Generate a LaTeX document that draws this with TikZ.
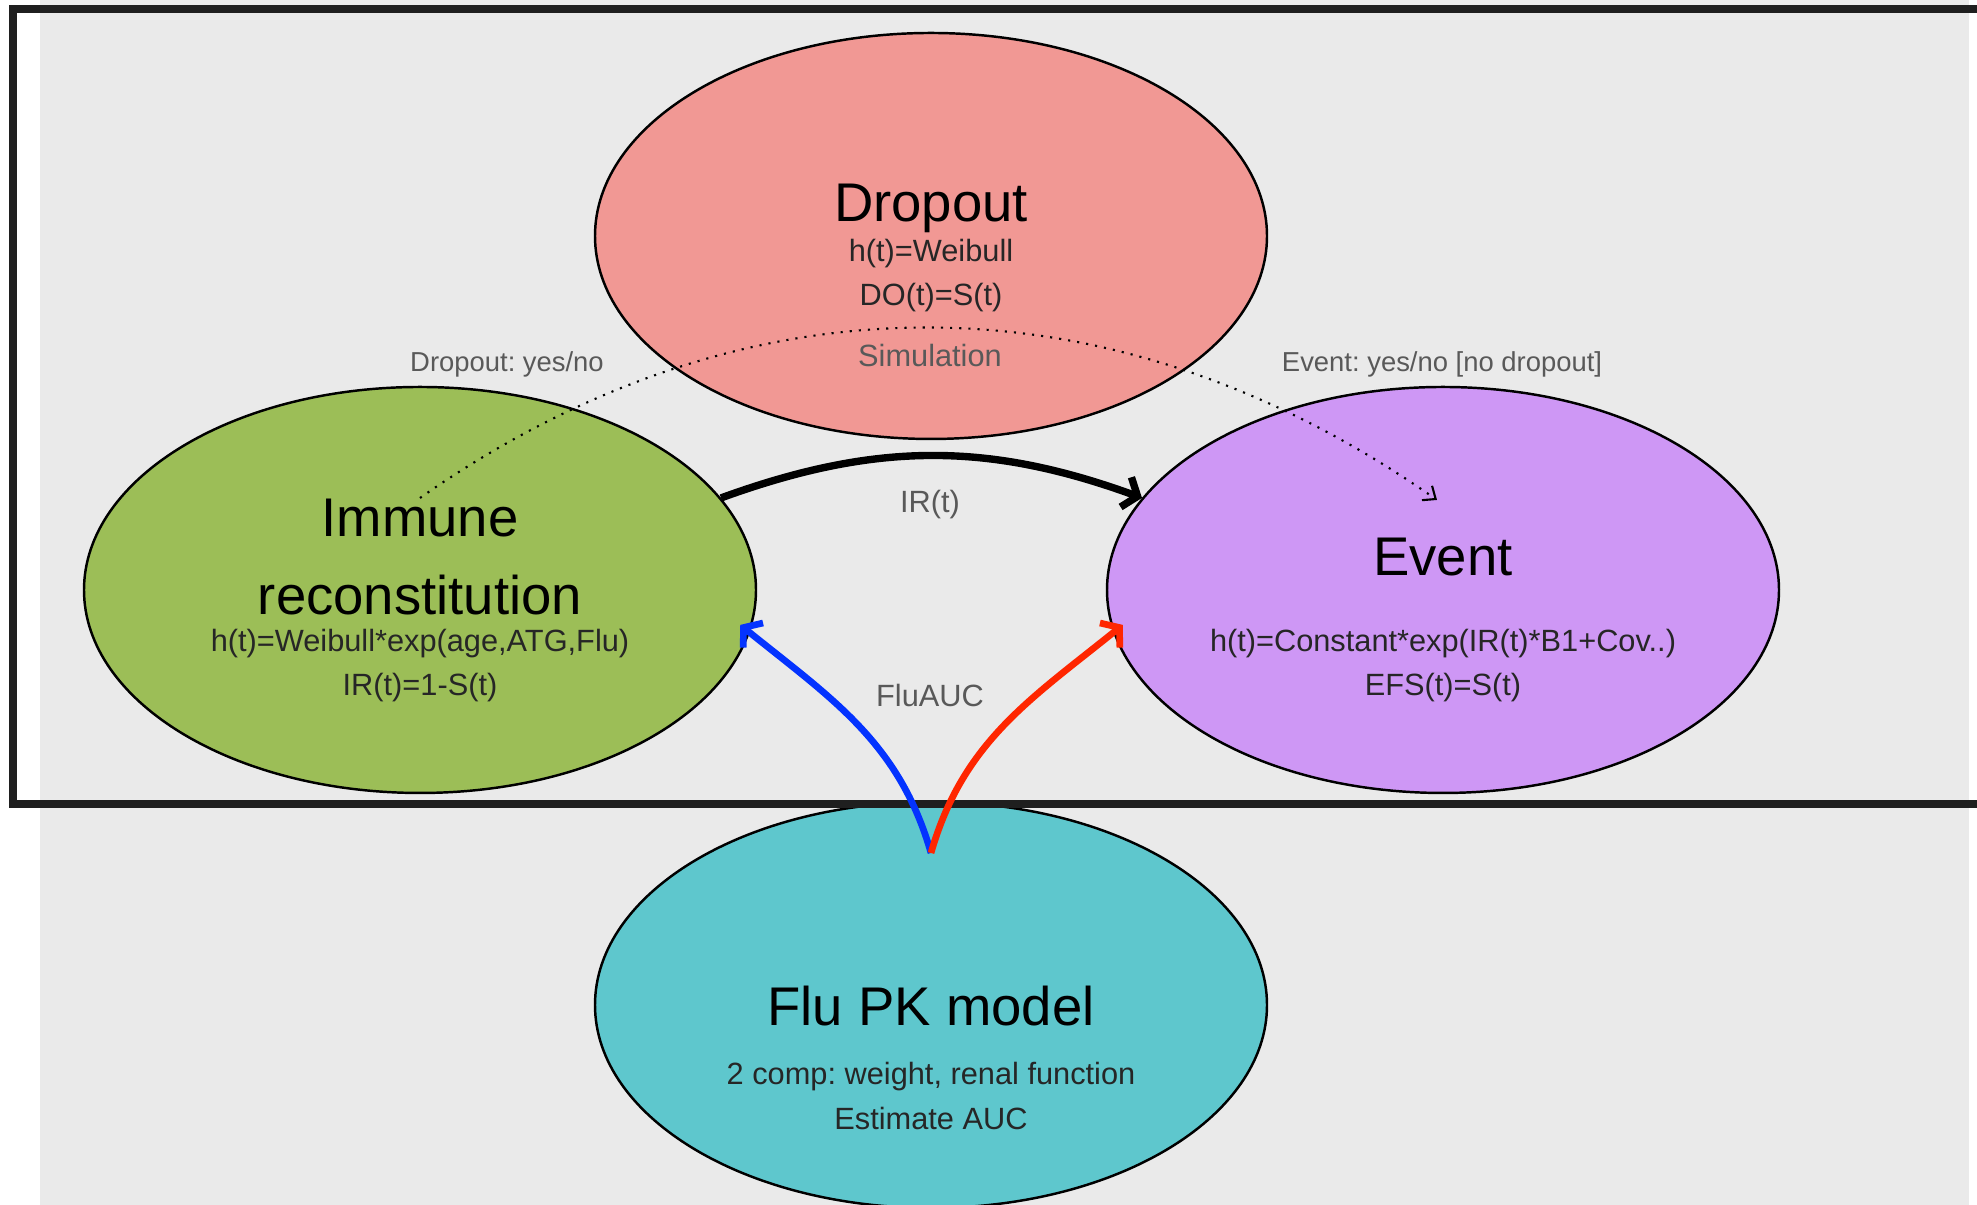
\documentclass[tikz,border=0pt]{standalone}
\usepackage{fontspec}
\setmainfont{Liberation Sans}
\usepackage{tikz}
\usetikzlibrary{arrows.meta, calc, positioning, shapes.geometric}
\usepackage{xcolor}
\definecolor{bgGray}{HTML}{EAEAEA}
\definecolor{dropRed}{HTML}{F19894}
\definecolor{immGreen}{HTML}{9CBE57}
\definecolor{evPurple}{HTML}{CE97F5}
\definecolor{fluCyan}{HTML}{5EC7CD}
\definecolor{labGray}{HTML}{595959}
\definecolor{arrBlue}{HTML}{0433FF}
\definecolor{arrRed}{HTML}{FF2600}
\frenchspacing

\begin{document}
\begin{tikzpicture}[
    oval/.style={ellipse, draw=black, line width=0.7pt, minimum width=6.72cm, minimum height=4.06cm, inner sep=0pt},
    title/.style={anchor=base, font=\fontsize{15.5}{18}\selectfont, text=black},
    formula/.style={anchor=base, font=\fontsize{8.75}{10.5}\selectfont, text=black!85},
    note/.style={anchor=base, font=\fontsize{8.75}{10.5}\selectfont, text=labGray},
    lab/.style={anchor=base, font=\fontsize{7.8}{9.5}\selectfont, text=labGray},
    flow/.style={line width=1.9pt, -{Straight Barb[length=3.5pt, width=9pt]}}
]
    \useasboundingbox (0,0) rectangle (19.77,12.05);
    % 背景
    \fill[bgGray] (0.40,0) rectangle (19.69,12.05);

    % 四个模型
    \node[oval, fill=dropRed] (drop) at (9.31,9.69) {};
    \node[oval, fill=immGreen] (imm) at (4.20,6.15) {};
    \node[oval, fill=evPurple] (ev) at (14.43,6.15) {};
    \node[oval, fill=fluCyan] (flu) at (9.31,2.00) {};

    % 框
    \draw[line width=2.3pt, black!88] (20,11.96) -- (0.13,11.96) -- (0.13,4.01) -- (20,4.01);

    % 模拟
    \coordinate (simA) at ([yshift=0.92cm]imm.center);
    \coordinate (simB) at ([shift={(-0.06,0.90)}]ev.center);
    \draw[dotted, line width=0.6pt, -{Straight Barb[length=3pt, width=5pt]}] (simA) to[out=35, in=145] (simB);

    % 箭头
    \coordinate (auc) at ([yshift=1.52cm]flu.center);
    \draw[flow, black, line width=2.1pt] (imm.17) to[bend left=20] (ev.163);
    \draw[flow, arrBlue] (auc) to[out=106, in=-39] ([xshift=-0.12cm]imm.-6);
    \draw[flow, arrRed] (auc) to[out=74, in=219] ([xshift=0.12cm]ev.186);

    % 文字
    \node[title] (dropT) at ([yshift=0.14cm]drop.center) {Dropout};
    \node[formula] (dropH) at ([yshift=-0.26cm]drop.center) {h(t)=Weibull};
    \node[formula] (dropS) at ([yshift=-0.70cm]drop.center) {DO(t)=S(t)};

    \node[title] (immT) at ([yshift=0.53cm]imm.center) {Immune};
    \node[title] (immT2) at ([yshift=-0.25cm]imm.center) {reconstitution};
    \node[formula] (immH) at ([yshift=-0.62cm]imm.center) {h(t)=Weibull*exp(age,ATG,Flu)};
    \node[formula] (immS) at ([yshift=-1.06cm]imm.center) {IR(t)=1-S(t)};

    \node[title] (evT) at ([yshift=0.14cm]ev.center) {Event};
    \node[formula] (evH) at ([yshift=-0.62cm]ev.center) {h(t)=Constant*exp(IR(t)*B1+Cov..)};
    \node[formula] (evS) at ([yshift=-1.06cm]ev.center) {EFS(t)=S(t)};

    \node[title] (fluT) at ([yshift=-0.21cm]flu.center) {Flu PK model};
    \node[formula] (fluC) at ([yshift=-0.80cm]flu.center) {2 comp: weight, renal function};
    \node[formula] (fluE) at ([yshift=-1.25cm]flu.center) {Estimate AUC};

    \node[lab] (doLab) at (5.07,8.33) {Dropout: yes/no};
    \node[lab] (evLab) at (14.42,8.33) {Event: yes/no [no dropout]};
    \node[note] (simLab) at (9.30,8.38) {Simulation};
    \node[note] (irLab) at (9.30,6.92) {IR(t)};
    \node[note] (aucLab) at (9.30,4.98) {FluAUC};
\end{tikzpicture}
\end{document}
